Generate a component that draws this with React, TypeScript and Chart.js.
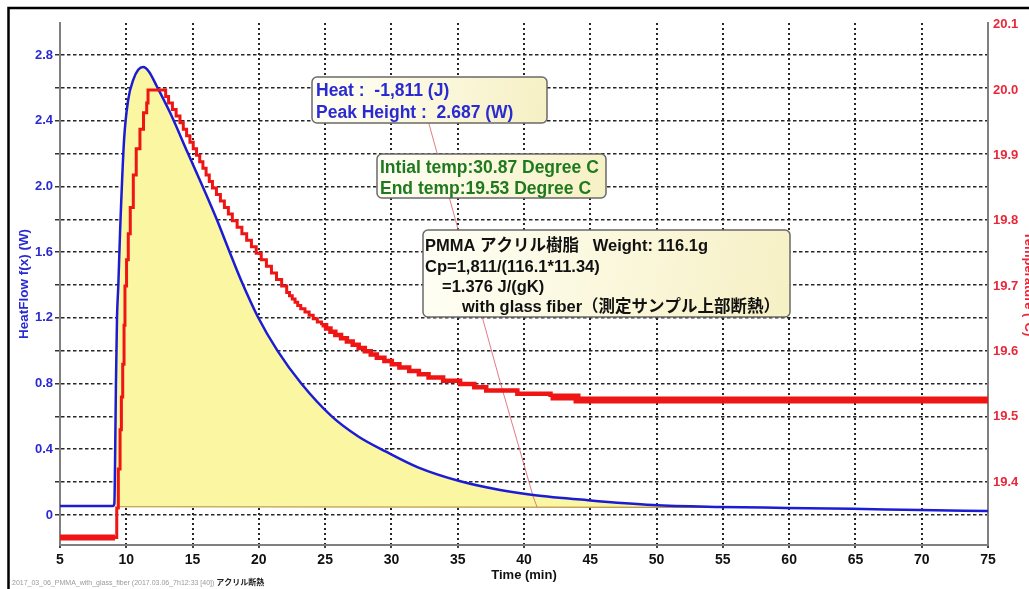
import React, { useEffect, useRef } from 'react';
import { Chart, registerables } from 'chart.js';

Chart.register(...registerables);

const FONT = "Arial, 'Liberation Sans', 'Noto Sans CJK JP', sans-serif";

// ---- Heat flow (left axis, W) ----
const blueTime = [5, 9.0, 9.1, 9.15, 9.22, 9.3, 9.4, 9.53, 9.83, 10.15, 10.53, 10.9, 11.28, 11.7, 12.3, 13.3, 14.66, 15.76, 16.82, 17.75, 18.65, 19.9, 21.4, 23.2, 25.5, 27.5, 29.6, 32.0, 35.2, 38.2, 40.7, 44.7, 49.7, 54.8, 59.8, 64.8, 69.9, 75];
const blueFlow = [0.055, 0.055, 0.07, 0.3, 0.8, 1.2, 1.4, 1.72, 2.28, 2.53, 2.65, 2.71, 2.727, 2.7, 2.61, 2.45, 2.2, 2.0, 1.8, 1.61, 1.43, 1.21, 1.0, 0.8, 0.6, 0.478, 0.385, 0.29, 0.205, 0.152, 0.122, 0.091, 0.061, 0.049, 0.043, 0.037, 0.03, 0.024];

// ---- Temperature (right axis, deg C), step series ----
const redTime = [5, 9.15, 9.28, 9.4, 9.53, 9.63, 9.73, 9.83, 9.9, 10.02, 10.15, 10.3, 10.53, 10.75, 11.03, 11.3, 11.54, 11.64,
  12.97, 13.19, 13.48, 13.76, 14.05, 14.3, 14.55, 14.8, 15.05, 15.3, 15.54, 15.78, 16.02, 16.26, 16.5, 16.8, 17.1, 17.4, 17.7, 18.0,
  18.36, 18.72, 19.08, 19.44, 19.8, 20.18, 20.57, 20.95, 21.33, 21.72, 22.1,
  22.31, 22.52, 22.73, 22.93, 23.16, 23.48, 23.79, 24.1, 24.41, 24.73, 25.07, 25.4, 25.77, 26.2, 26.64, 27.08, 27.53, 27.99,
  28.44, 28.9, 29.47, 30.03, 30.6, 31.34, 32.07, 32.8, 33.9, 35.18, 36.25, 37.15, 39.5, 42.0, 44.0, 75];
const redTemp = [19.315, 19.315, 19.36, 19.42, 19.48, 19.53, 19.58, 19.64, 19.7, 19.74, 19.78, 19.82, 19.87, 19.91, 19.94, 19.965, 19.98, 20.0,
  19.99, 19.98, 19.97, 19.96, 19.95, 19.94, 19.93, 19.92, 19.91, 19.9, 19.89, 19.88, 19.87, 19.86, 19.85, 19.84, 19.83, 19.82, 19.81, 19.8,
  19.79, 19.78, 19.77, 19.76, 19.75, 19.74, 19.73, 19.72, 19.71, 19.7, 19.69,
  19.685, 19.68, 19.675, 19.67, 19.665, 19.66, 19.655, 19.65, 19.645, 19.64, 19.635, 19.63, 19.625, 19.62, 19.615, 19.61, 19.605, 19.6,
  19.595, 19.59, 19.585, 19.58, 19.575, 19.57, 19.565, 19.56, 19.555, 19.55, 19.545, 19.54, 19.535, 19.53, 19.5255, 19.5255];

// ---- integration marker line and baseline (left axis) ----
const markerTime = [32.7, 38.2, 40.7, 41.0];
const markerFlow = [2.42, 0.81, 0.11, 0.045];
const baseTime = [9.3, 55];
const baseFlow = [0.05, 0.046];

// ---- axes ----
const xTicks = [5, 10, 15, 20, 25, 30, 35, 40, 45, 50, 55, 60, 65, 70, 75];
const leftGridTicks = [0, 0.2, 0.4, 0.6, 0.8, 1.0, 1.2, 1.4, 1.6, 1.8, 2.0, 2.2, 2.4, 2.6, 2.8];
const leftLabelValues = [0, 0.4, 0.8, 1.2, 1.6, 2.0, 2.4, 2.8];
const leftLabelTexts = ['0', '0.4', '0.8', '1.2', '1.6', '2.0', '2.4', '2.8'];
const rightTicks = [19.4, 19.5, 19.6, 19.7, 19.8, 19.9, 20.0, 20.1];
const rightLabelTexts = ['19.4', '19.5', '19.6', '19.7', '19.8', '19.9', '20.0', '20.1'];

// ---- annotation texts ----
const heatLines = ['Heat :  -1,811 (J)', 'Peak Height :  2.687 (W)'];
const tempLines = ['Intial temp:30.87 Degree C', 'End temp:19.53 Degree C'];
const noteLines = ['PMMA アクリル樹脂   Weight: 116.1g', 'Cp=1,811/(116.1*11.34)', '=1.376 J/(gK)', 'with glass fiber（測定サンプル上部断熱）'];
const footerText = '2017_03_06_PMMA_with_glass_fiber (2017.03.06_7h12:33 [40])';
const footerTag = 'アクリル断熱';

const BLUE = '#1c1cd4';
const BLUE_TXT = '#2a2ad2';
const RED = '#f01515';
const RED_TXT = '#e8283a';

function toXY(xs: number[], ys: number[]) {
  return xs.map((x, i) => ({ x, y: ys[i] }));
}

function roundBox(ctx: CanvasRenderingContext2D, x: number, y: number, w: number, h: number) {
  const r = 5;
  ctx.beginPath();
  ctx.moveTo(x + r, y);
  ctx.arcTo(x + w, y, x + w, y + h, r);
  ctx.arcTo(x + w, y + h, x, y + h, r);
  ctx.arcTo(x, y + h, x, y, r);
  ctx.arcTo(x, y, x + w, y, r);
  ctx.closePath();
  const g = ctx.createLinearGradient(x, y, x + w, y + h);
  g.addColorStop(0, '#fffff6');
  g.addColorStop(1, '#f6f0c4');
  ctx.fillStyle = g;
  ctx.fill();
  ctx.lineWidth = 1.5;
  ctx.strokeStyle = '#6a6a6a';
  ctx.stroke();
}

const overlayPlugin = {
  id: 'overlay',
  afterDraw(chart: any) {
    const ctx: CanvasRenderingContext2D = chart.ctx;
    ctx.save();
    // frame
    ctx.strokeStyle = '#000';
    ctx.lineWidth = 2.5;
    ctx.beginPath();
    ctx.moveTo(8.5, 600);
    ctx.lineTo(8.5, 8);
    ctx.lineTo(1040, 8);
    ctx.stroke();

    ctx.textBaseline = 'alphabetic';
    ctx.textAlign = 'left';

    // box 1
    roundBox(ctx, 312, 77, 235, 46);
    ctx.font = `bold 17.5px ${FONT}`;
    ctx.fillStyle = BLUE_TXT;
    ctx.fillText(heatLines[0], 316, 96);
    ctx.fillText(heatLines[1], 316, 117.5);

    // box 2
    roundBox(ctx, 377, 154, 229, 44);
    ctx.fillStyle = '#1f7a1f';
    ctx.fillText(tempLines[0], 380, 173);
    ctx.fillText(tempLines[1], 380, 193.5);

    // box 3
    roundBox(ctx, 423, 230, 367, 87);
    ctx.font = `bold 16.5px ${FONT}`;
    ctx.fillStyle = '#111';
    ctx.fillText(noteLines[0], 425, 251);
    ctx.fillText(noteLines[1], 425, 271.5);
    ctx.fillText(noteLines[2], 442, 292);
    ctx.fillText(noteLines[3], 462, 312);

    // footer
    ctx.font = `7px ${FONT}`;
    ctx.fillStyle = '#9a9a9a';
    ctx.fillText(footerText, 12, 585);
    const w = ctx.measureText(footerText + ' ').width;
    ctx.font = `bold 8px ${FONT}`;
    ctx.fillStyle = '#222';
    ctx.fillText(footerTag, 12 + w, 585);
    ctx.restore();
  },
};

export default function App() {
  const ref = useRef<HTMLCanvasElement>(null);

  useEffect(() => {
    if (!ref.current) return;
    const chart = new Chart(ref.current, {
      type: 'line',
      data: {
        datasets: [
          {
            label: 'Temperature',
            data: toXY(redTime, redTemp),
            yAxisID: 'y1',
            borderColor: RED,
            borderWidth: 3,
            stepped: true,
            pointRadius: 0,
            fill: false,
            order: 0,
            segment: {
              borderWidth: (c: any) => {
                const x = c.p1.parsed.x;
                if (x <= 9.2) return 6;
                if (x > 43.5) return 7;
                if (x > 25) return 4.5;
                return 3;
              },
            },
          },
          {
            label: 'HeatFlow',
            data: toXY(blueTime, blueFlow),
            yAxisID: 'y',
            borderColor: BLUE,
            borderWidth: 2.5,
            pointRadius: 0,
            cubicInterpolationMode: 'monotone',
            fill: { target: { value: 0.048 }, above: '#fbf6a2', below: 'rgba(0,0,0,0)' },
            order: 1,
          },
          {
            label: 'Marker',
            data: toXY(markerTime, markerFlow),
            yAxisID: 'y',
            borderColor: 'rgba(222,110,120,0.9)',
            borderWidth: 1,
            pointRadius: 0,
            fill: false,
            order: 2,
          },
          {
            label: 'Baseline',
            data: toXY(baseTime, baseFlow),
            yAxisID: 'y',
            borderColor: '#b4903c',
            borderWidth: 1.2,
            pointRadius: 0,
            fill: false,
            order: 3,
          },
        ],
      },
      options: {
        animation: false,
        responsive: false,
        devicePixelRatio: 1,
        events: [],
        layout: { padding: { left: 13, top: 23, right: 0, bottom: 0 } },
        plugins: {
          legend: { display: false },
          tooltip: { enabled: false },
          filler: { drawTime: 'beforeDatasetsDraw' },
        } as any,
        scales: {
          x: {
            type: 'linear',
            min: 5,
            max: 75,
            afterBuildTicks: (s: any) => { s.ticks = xTicks.map((v) => ({ value: v })); },
            afterFit: (s: any) => { s.height = 44; },
            ticks: {
              autoSkip: false,
              maxRotation: 0,
              padding: 3,
              color: '#111',
              font: { family: FONT, size: 14, weight: 'bold' },
              callback: (v: any) => String(v),
            },
            grid: {
              color: (c: any) => (c.tick && (c.tick.value === 5 || c.tick.value === 75) ? 'rgba(0,0,0,0)' : '#262626'),
              lineWidth: 2,
              tickLength: 4,
              tickColor: '#444',
              tickBorderDash: [2, 2],
            },
            border: { display: true, color: '#808080', width: 2, dash: [2, 3] },
            title: {
              display: true,
              text: 'Time (min)',
              color: '#111',
              font: { family: FONT, size: 13, weight: 'bold' },
              padding: { top: 0, bottom: 6 },
            },
          },
          y: {
            type: 'linear',
            position: 'left',
            min: -0.183,
            max: 2.995,
            afterBuildTicks: (s: any) => { s.ticks = leftGridTicks.map((v) => ({ value: v })); },
            afterFit: (s: any) => { s.width = 47; },
            ticks: {
              autoSkip: false,
              padding: 2,
              color: BLUE_TXT,
              font: { family: FONT, size: 13, weight: 'bold' },
              callback: (v: any) => {
                const i = leftLabelValues.findIndex((t) => Math.abs(t - Number(v)) < 1e-6);
                return i >= 0 ? leftLabelTexts[i] : '';
              },
            },
            grid: {
              color: '#262626',
              lineWidth: 1.5,
              tickLength: 5,
              tickColor: '#333',
            },
            border: { display: true, color: '#808080', width: 2, dash: [3.5, 2.5] },
            title: {
              display: true,
              text: 'HeatFlow f(x) (W)',
              color: BLUE_TXT,
              font: { family: FONT, size: 13.5, weight: 'bold' },
              padding: { top: 3, bottom: 0 },
            },
          },
          y1: {
            type: 'linear',
            position: 'right',
            min: 19.3035,
            max: 20.1025,
            afterBuildTicks: (s: any) => { s.ticks = rightTicks.map((v) => ({ value: v })); },
            afterFit: (s: any) => { s.width = 41; },
            ticks: {
              autoSkip: false,
              padding: 2,
              color: RED_TXT,
              font: { family: FONT, size: 13, weight: 'bold' },
              callback: (v: any) => {
                const i = rightTicks.findIndex((t) => Math.abs(t - Number(v)) < 1e-6);
                return i >= 0 ? rightLabelTexts[i] : '';
              },
            },
            grid: {
              drawOnChartArea: false,
              drawTicks: true,
              tickLength: 3,
              tickColor: 'rgba(0,0,0,0)',
            },
            border: { display: true, color: '#808080', width: 2 },
            title: {
              display: true,
              text: 'Temperature (°C)',
              color: RED_TXT,
              font: { family: FONT, size: 13, weight: 'bold' },
              padding: { top: -7.5, bottom: 0 },
            },
          },
        },
      } as any,
      plugins: [overlayPlugin],
    });
    return () => chart.destroy();
  }, []);

  return (
    <div style={{ position: 'fixed', left: 0, top: 0, width: 1029, height: 589, background: '#fff' }}>
      <canvas ref={ref} width={1029} height={589} style={{ display: 'block' }} />
    </div>
  );
}
